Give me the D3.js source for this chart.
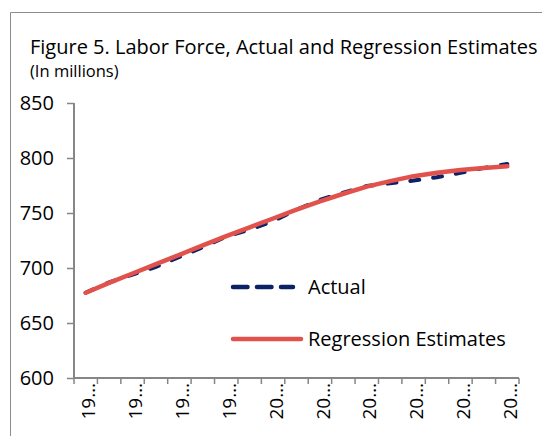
<!DOCTYPE html>
<html>
<head>
<meta charset="utf-8">
<script src="https://cdn.jsdelivr.net/npm/d3@7"></script>
<style>
  body { margin: 0; background: #fff; }
  text { font-family: "Open Sans", "Noto Sans", sans-serif; fill: #000; }
</style>
</head>
<body>
<div id="chart"></div>
<script>
// Data
const years = d3.range(1992, 2011);
const actual = [677.5, 687, 694, 701, 710, 719, 728.5, 735, 742.5, 753,
                762, 768.5, 774.5, 777, 779.5, 782.5, 786.5, 791, 794.5];
const regression = [677.5, 686.5, 695, 703.5, 712, 720.5, 729, 737, 745, 753,
                    760.5, 767.5, 774, 779, 783.5, 786.5, 789, 791, 792.5];
const yTicks = [600, 650, 700, 750, 800, 850];

const width = 542, height = 436;
const plot = { left: 74, right: 519, top: 103, bottom: 378 };

const svg = d3.select("#chart").append("svg")
    .attr("width", width)
    .attr("height", height);

// outer frame (only left and top edges are visible)
svg.append("path")
    .attr("d", `M10.5,${height}V12.5H${width}`)
    .attr("fill", "none")
    .attr("stroke", "#8c8c8c")
    .attr("stroke-width", 1);

// title
svg.append("text")
    .attr("x", 30).attr("y", 54)
    .style("font-size", "20px")
    .text("Figure 5. Labor Force, Actual and Regression Estimates");
svg.append("text")
    .attr("x", 30).attr("y", 77)
    .style("font-size", "16.5px")
    .text("(In millions)");

const x = d3.scaleBand().domain(years).range([plot.left, plot.right]).padding(0);
const y = d3.scaleLinear().domain([600, 850]).range([plot.bottom, plot.top]);
const cx = d => x(d) + x.bandwidth() / 2;

// y axis
const yAxis = svg.append("g")
    .attr("transform", `translate(${plot.left},0)`)
    .call(d3.axisLeft(y).tickValues(yTicks).tickSize(7).tickPadding(13));
yAxis.select(".domain").remove();
yAxis.selectAll("line").attr("stroke", "#868686").attr("stroke-width", 1.5);
yAxis.selectAll("text").style("font-size", "20px").style("font-family", "Open Sans, Noto Sans, sans-serif").attr("fill", "#000");

svg.append("line")
    .attr("x1", plot.left).attr("x2", plot.left)
    .attr("y1", y(850)).attr("y2", plot.bottom)
    .attr("stroke", "#868686").attr("stroke-width", 2);

// x axis: ticks between categories, labels every second category
svg.append("line")
    .attr("x1", plot.left).attr("x2", plot.right)
    .attr("y1", plot.bottom).attr("y2", plot.bottom)
    .attr("stroke", "#868686").attr("stroke-width", 2);

const bounds = years.map(d => x(d)).concat([x(years[years.length - 1]) + x.bandwidth()]);
svg.append("g").selectAll("line")
    .data(bounds)
    .join("line")
    .attr("x1", d => d).attr("x2", d => d)
    .attr("y1", plot.bottom).attr("y2", plot.bottom + 6)
    .attr("stroke", "#868686").attr("stroke-width", 1.5);

svg.append("g").selectAll("text")
    .data(years.filter((d, i) => i % 2 === 0))
    .join("text")
    .attr("transform", d => `translate(${cx(d) + 3},${plot.bottom + 5}) rotate(-90)`)
    .attr("text-anchor", "end")
    .attr("dy", "0.35em")
    .style("font-size", "19px")
    .text(d => String(d).slice(0, 2) + "…");

// lines
const line = d3.line()
    .x((d, i) => cx(years[i]))
    .y(d => y(d));

svg.append("path")
    .datum(actual)
    .attr("fill", "none")
    .attr("stroke", "#0c2266")
    .attr("stroke-width", 4)
    .attr("stroke-linecap", "round")
    .attr("stroke-dasharray", "9,14")
    .attr("d", line);

svg.append("path")
    .datum(regression)
    .attr("fill", "none")
    .attr("stroke", "#e0524b")
    .attr("stroke-width", 4.5)
    .attr("stroke-linecap", "round")
    .attr("stroke-linejoin", "round")
    .attr("d", line);

// legend
const legend = [
  { name: "Actual", color: "#0c2266", dash: true, y: 287, x2: 293 },
  { name: "Regression Estimates", color: "#e0524b", dash: false, y: 339, x2: 301 }
];
const lg = svg.append("g").selectAll("g")
    .data(legend)
    .join("g");
lg.append("line")
    .attr("x1", 233).attr("x2", d => d.x2)
    .attr("y1", d => d.y).attr("y2", d => d.y)
    .attr("stroke", d => d.color)
    .attr("stroke-width", 4.5)
    .attr("stroke-linecap", "round")
    .attr("stroke-dasharray", d => d.dash ? "14.5,9.5" : null);
lg.append("text")
    .attr("x", 308).attr("y", d => d.y)
    .attr("dy", "0.35em")
    .style("font-size", "20px")
    .text(d => d.name);
</script>
</body>
</html>
